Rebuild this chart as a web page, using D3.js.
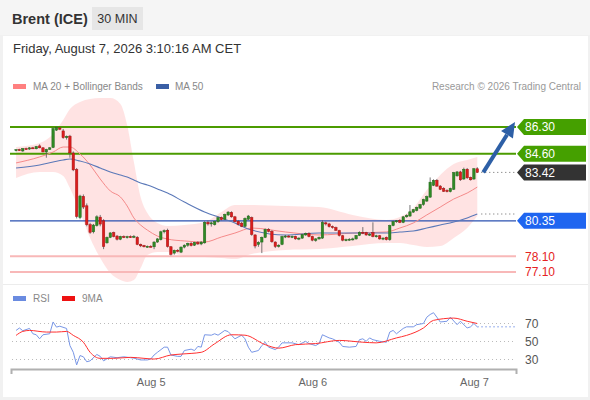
<!DOCTYPE html>
<html>
<head>
<meta charset="utf-8">
<script src="https://cdn.jsdelivr.net/npm/d3@7"></script>
<style>
  body { margin: 0; background: #f1f1f1; font-family: "Liberation Sans", Arial, sans-serif; }
</style>
</head>
<body>
<svg id="chart" width="590" height="400"></svg>
<script>
// first 30 min candle, Aug 4 04:00
var startTime = new Date(2026, 7, 4, 4, 0);

// open, high, low, close
var candles = [
  [84.82,84.90,84.75,84.86],[84.86,84.92,84.80,84.84],[84.78,84.96,84.72,84.93],[84.93,84.99,84.86,84.90],
  [84.90,85.02,84.85,84.98],[84.98,85.04,84.90,84.94],[84.92,85.10,84.88,85.06],[85.10,85.20,84.95,84.98],
  [84.98,85.02,84.70,84.72],[84.72,84.92,84.35,84.88],[84.88,85.02,84.84,84.98],[85.00,86.28,84.96,86.20],
  [86.10,86.34,86.05,86.26],[86.24,86.30,86.10,86.16],[86.05,86.18,85.55,85.62],[85.62,85.76,85.50,85.70],
  [85.72,85.80,84.35,84.66],[84.65,84.75,83.50,83.58],[83.60,83.70,80.50,80.62],[80.55,82.00,80.45,81.92],
  [81.90,82.02,81.10,81.22],[81.30,81.45,80.00,80.10],[80.10,80.22,79.52,79.62],[79.65,80.15,79.55,80.08],
  [80.05,80.70,79.98,80.60],[80.58,80.72,80.00,80.14],[80.35,80.45,78.55,78.72],[78.95,79.35,78.90,79.30],
  [79.30,79.62,79.25,79.58],[79.60,79.66,79.30,79.35],[79.38,79.45,79.10,79.18],[79.18,79.40,79.12,79.35],
  [79.35,79.42,79.25,79.30],[79.30,79.40,79.22,79.34],[79.34,79.42,79.26,79.30],[79.30,79.45,79.25,79.36],
  [79.30,79.38,78.80,78.85],[78.85,78.90,78.68,78.76],[78.78,78.82,78.66,78.70],[78.70,78.78,78.64,78.73],
  [78.73,78.80,78.66,78.70],[78.70,79.05,78.55,79.00],[79.00,79.25,78.95,79.20],[79.15,79.72,79.10,79.65],
  [79.65,79.80,79.55,79.72],[79.75,79.85,78.65,78.72],[78.70,78.75,78.15,78.22],[78.30,78.52,78.20,78.48],
  [78.48,78.55,78.35,78.42],[78.36,78.72,78.30,78.68],[78.68,78.86,78.60,78.80],[78.80,78.96,78.70,78.92],
  [78.92,79.00,78.72,78.78],[78.80,79.02,78.75,78.98],[78.98,79.05,78.82,78.88],[78.88,79.05,78.80,79.00],
  [78.95,80.32,78.90,80.25],[80.25,80.36,80.05,80.15],[80.15,80.30,79.98,80.22],[80.10,80.35,80.05,80.30],
  [80.30,80.62,80.22,80.55],[80.55,80.62,80.38,80.42],[80.45,80.80,80.40,80.75],[80.72,80.96,80.65,80.90],
  [80.88,80.95,80.55,80.60],[80.60,80.66,80.25,80.30],[80.32,80.40,80.05,80.12],[80.20,80.28,79.95,80.00],
  [80.00,80.56,79.95,80.50],[80.45,80.72,80.40,80.65],[80.55,80.62,79.40,79.48],[79.45,79.50,78.60,78.75],
  [78.85,79.05,78.70,78.98],[79.00,79.35,78.30,79.30],[79.30,79.86,79.25,79.80],[79.80,79.88,79.62,79.68],
  [79.68,79.75,78.95,79.02],[79.00,79.05,78.62,78.72],[78.72,78.86,78.65,78.80],[78.85,79.40,78.80,79.35],
  [79.35,79.45,79.25,79.38],[79.38,79.45,79.28,79.32],[79.32,79.42,79.25,79.36],[79.36,79.40,79.15,79.20],
  [79.20,79.30,79.12,79.25],[79.25,79.52,79.20,79.48],[79.45,79.60,79.40,79.55],[79.55,79.62,79.30,79.35],
  [79.35,79.40,79.05,79.12],[79.10,79.25,79.02,79.20],[79.20,79.35,79.15,79.30],[79.25,80.38,79.20,80.25],
  [80.22,80.30,80.05,80.15],[80.15,80.22,79.92,79.98],[79.98,80.05,79.85,79.92],[79.92,79.98,79.70,79.75],
  [79.72,79.78,79.35,79.42],[79.40,79.45,79.05,79.12],[79.12,79.22,79.05,79.15],[79.15,79.25,79.08,79.18],
  [79.18,79.28,79.10,79.20],[79.20,79.45,79.15,79.42],[79.42,79.68,79.38,79.62],[79.62,79.95,79.50,79.58],
  [79.60,79.65,79.40,79.45],[79.45,79.56,79.38,79.50],[79.60,80.25,79.30,79.35],[79.35,79.46,79.28,79.40],
  [79.40,79.45,79.15,79.20],[79.20,79.30,79.12,79.25],[79.30,79.35,79.10,79.15],[79.15,80.10,79.08,80.05],
  [80.05,80.35,80.00,80.30],[80.30,80.40,80.22,80.35],[80.38,80.45,80.20,80.25],[80.25,80.65,80.20,80.60],
  [80.60,80.76,80.55,80.68],[80.65,81.35,80.60,80.92],[80.90,81.10,80.85,81.05],[81.00,81.25,80.95,81.20],
  [81.15,81.42,81.10,81.38],[81.38,81.75,81.30,81.70],[81.60,81.95,81.55,81.88],[81.85,83.10,81.80,82.80],
  [82.60,82.98,82.55,82.92],[82.92,83.00,82.50,82.55],[82.55,82.62,82.30,82.35],[82.40,82.48,82.18,82.22],
  [82.28,82.35,82.15,82.20],[82.20,82.45,82.15,82.40],[82.35,83.45,82.30,83.40],[83.20,83.50,83.15,83.45],
  [83.45,83.52,82.88,82.95],[83.00,83.72,82.95,83.62],[83.62,83.70,83.00,83.08],[83.10,83.15,82.90,82.95],
  [83.00,83.70,82.95,83.65],[83.65,83.75,83.38,83.42]
];

// indicator samples (candle index -> value)
var bandIdx   = [0, 7, 11, 14, 16, 19, 22, 25, 28, 31, 33, 35, 37, 39, 42, 45, 50, 56, 61, 65, 70, 80, 90, 100, 110, 114, 118, 122, 126, 130, 134, 137];
var bandUpper = [85.03, 85.28, 85.86, 86.74, 87.44, 87.89, 88.08, 88.14, 88.14, 87.76, 86.43, 84.08, 81.86, 80.84, 80.21, 80.02,
                 80.08, 80.27, 80.91, 81.35, 81.35, 81.29, 81.22, 80.72, 80.40, 80.59, 81.16, 82.30, 83.25, 83.95, 84.21, 84.40];
var ma20      = [84.02, 84.40, 84.71, 85.03, 85.03, 84.59, 83.89, 83.00, 82.24, 81.86, 81.29, 80.53, 80.08, 79.76, 79.38, 79.19,
                 79.07, 79.00, 79.32, 79.57, 79.89, 79.64, 79.45, 79.57, 79.64, 79.89, 80.21, 80.72, 81.22, 81.73, 82.11, 82.49];
var bandLower = [83.06, 83.44, 83.44, 83.19, 82.43, 80.91, 79.26, 77.99, 77.04, 76.59, 76.47, 76.59, 77.35, 78.18, 78.37, 78.37,
                 78.11, 78.05, 77.99, 77.92, 78.24, 78.50, 78.56, 78.75, 78.94, 78.94, 78.81, 78.69, 78.75, 79.26, 79.89, 80.65];
var ma50      = [83.70, 83.89, 84.08, 84.21, 84.27, 84.14, 83.95, 83.70, 83.44, 83.25, 83.13, 82.94, 82.75, 82.62, 82.37, 82.11,
                 81.54, 80.91, 80.53, 80.21, 79.76, 79.45, 79.57, 79.57, 79.57, 79.64, 79.70, 79.89, 80.08, 80.27, 80.53, 80.78];

var rsiIdx = [0, 1, 2, 4, 5, 6, 7, 8, 10, 11, 12, 13, 15, 16, 17, 18, 19, 20, 21, 22, 24, 25, 26, 28, 30, 32, 35, 37, 39, 40,
              41, 42, 44, 45, 46, 48, 49, 50, 52, 53, 54, 55, 56, 58, 59, 60, 62, 63, 64, 65, 67, 68, 69, 70, 72, 73, 74, 75, 77, 78,
              79, 82, 84, 86, 87, 89, 90, 91, 93, 94, 96, 97, 99, 101, 102, 103, 104, 105, 106, 108, 110, 111, 112, 113, 115, 116, 118, 119, 121, 122,
              123, 124, 125, 126, 128, 129, 131, 132, 134, 135, 136, 137];
var rsiVal = [62.3, 65, 62, 64.5, 58.6, 57.5, 53, 57.5, 58.6, 71.7, 66, 67, 64.5, 45.5, 38, 24, 34.4, 33, 27.5, 28.5, 35.6, 33.5, 28.5, 33, 32, 33, 31.5, 29.5, 29.5, 30.5,
              35, 38, 43.7, 43.7, 35, 33.5, 33.5, 40, 41.5, 40, 44.5, 43.7, 57.5, 57, 58.6, 57, 62.3, 61, 57, 53, 57, 53, 43.7, 38, 40, 45.5, 49.2, 43.7, 41, 43.7,
              48.5, 48.5, 46.5, 50.2, 47.7, 45.5, 47.7, 57.5, 54, 53, 49.2, 44.5, 43.7, 44.5, 52, 53, 50.2, 54, 52, 50.2, 49.2, 60.5, 62.3, 58.6, 64.5, 66.3, 66.3, 68.7, 70, 77,
              80, 82, 77, 71.7, 72.5, 77, 68.7, 72.5, 65, 66.3, 70, 66.3];
var rsiMaIdx = [0, 2, 4, 9, 12, 15, 17, 20, 22, 25, 29, 34, 38, 41, 46, 49, 55, 59, 64, 68, 74, 78, 83, 89, 96, 103, 107, 113, 116, 121, 124, 130, 134, 137];
var rsiMaVal = [56.8, 61.2, 62.3, 60.5, 60.5, 61.2, 56.8, 49.2, 38, 31.3, 31.3, 32.4, 31.3, 30.5, 35, 36, 38, 47.5, 57.5, 57, 46.5, 42.6, 46.5, 47.7, 51.2, 49.2, 48.5, 54, 56.8, 65, 73.5, 76, 72.5, 70];

var resistances = [86.30, 84.60];
var supports = [78.10, 77.10];
var pivot = 80.35;
var lastPrice = 83.42;
var rsiLevels = [70, 50, 30];
var dayTicks = [new Date(2026, 7, 5), new Date(2026, 7, 6), new Date(2026, 7, 7)];

var left = 11, right = 516;

var svg = d3.select("#chart");

var x = d3.scaleTime()
    .domain([new Date(2026, 7, 4, 3, 15), new Date(2026, 7, 7, 6, 15)])
    .range([left, right]);
var y = d3.scaleLinear().domain([77.10, 86.30]).range([272, 127]);
var yR = d3.scaleLinear().domain([30, 70]).range([359.5, 323.5]);

var tOf = function(i) { return d3.timeMinute.offset(startTime, 30 * i); };

// page, header, card
svg.append("rect").attr("width", 590).attr("height", 400).attr("fill", "#f1f1f1");
svg.append("rect").attr("width", 590).attr("height", 35).attr("fill", "#f5f5f5");
svg.append("rect").attr("x", 3).attr("y", 36).attr("width", 585).attr("height", 361).attr("fill", "#fff");
svg.append("line").attr("x1", 3).attr("x2", 588).attr("y1", 284.5).attr("y2", 284.5)
    .attr("stroke", "#ececec");

svg.append("text").attr("x", 12).attr("y", 24)
    .attr("font-size", 14.5).attr("font-weight", "bold").attr("fill", "#333")
    .text("Brent (ICE)");
svg.append("rect").attr("x", 92).attr("y", 7).attr("width", 51).attr("height", 23).attr("fill", "#e6e6e6");
svg.append("text").attr("x", 117.5).attr("y", 23).attr("text-anchor", "middle")
    .attr("font-size", 12.5).attr("fill", "#333").text("30 MIN");
svg.append("text").attr("x", 13).attr("y", 53)
    .attr("font-size", 13).attr("fill", "#333")
    .text("Friday, August 7, 2026 3:10:16 AM CET");

// legends
svg.append("rect").attr("x", 13).attr("y", 84).attr("width", 13).attr("height", 5).attr("fill", "#ff8080");
svg.append("text").attr("x", 33).attr("y", 90).attr("font-size", 10).attr("fill", "#888")
    .text("MA 20 + Bollinger Bands");
svg.append("rect").attr("x", 156).attr("y", 84).attr("width", 13).attr("height", 5).attr("fill", "#3a5fa5");
svg.append("text").attr("x", 175).attr("y", 90).attr("font-size", 10).attr("fill", "#888").text("MA 50");
svg.append("text").attr("x", 581).attr("y", 90).attr("text-anchor", "end")
    .attr("font-size", 10).attr("fill", "#999").text("Research \u00a9 2026 Trading Central");

// bollinger band
var bandData = bandIdx.map(function(d, k) {
  return { t: tOf(d), up: bandUpper[k], mid: ma20[k], lo: bandLower[k], m50: ma50[k] };
});
svg.append("path").datum(bandData)
    .attr("fill", "#ffdede").attr("fill-opacity", 0.85)
    .attr("d", d3.area().curve(d3.curveMonotoneX)
      .x(function(d) { return x(d.t); })
      .y0(function(d) { return y(d.lo); })
      .y1(function(d) { return y(d.up); }));

// levels
resistances.forEach(function(v) {
  svg.append("line").attr("x1", left - 1).attr("x2", right).attr("y1", y(v)).attr("y2", y(v))
      .attr("stroke", "#4b9b00").attr("stroke-width", 2);
});
supports.forEach(function(v) {
  svg.append("line").attr("x1", left - 1).attr("x2", right).attr("y1", y(v)).attr("y2", y(v))
      .attr("stroke", "#f8b8b8").attr("stroke-width", 2);
});
svg.append("line").attr("x1", left - 1).attr("x2", right).attr("y1", y(pivot)).attr("y2", y(pivot))
    .attr("stroke", "#2a50b0").attr("stroke-width", 1.2);

// moving averages
svg.append("path").datum(bandData)
    .attr("fill", "none").attr("stroke", "#f58a8a").attr("stroke-width", 1)
    .attr("d", d3.line().curve(d3.curveMonotoneX)
      .x(function(d) { return x(d.t); }).y(function(d) { return y(d.mid); }));
svg.append("path").datum(bandData)
    .attr("fill", "none").attr("stroke", "#5a78b8").attr("stroke-width", 1.1)
    .attr("d", d3.line().curve(d3.curveMonotoneX)
      .x(function(d) { return x(d.t); }).y(function(d) { return y(d.m50); }));

// candles
var bw = 2.4;
var cg = svg.append("g").selectAll("g")
    .data(candles)
  .enter().append("g");
cg.append("line")
    .attr("x1", function(d, i) { return x(tOf(i)); })
    .attr("x2", function(d, i) { return x(tOf(i)); })
    .attr("y1", function(d) { return y(d[1]); })
    .attr("y2", function(d) { return y(d[2]); })
    .attr("stroke", "#555").attr("stroke-width", 0.8);
cg.append("rect")
    .attr("x", function(d, i) { return x(tOf(i)) - bw / 2; })
    .attr("y", function(d) { return y(Math.max(d[0], d[3])); })
    .attr("width", bw)
    .attr("height", function(d) { return Math.max(1, Math.abs(y(d[0]) - y(d[3]))); })
    .attr("fill", function(d) { return d[3] >= d[0] ? "#2f8a25" : "#dd1c1c"; })
    .attr("stroke", function(d) { return d[3] >= d[0] ? "#22661a" : "#a01212"; })
    .attr("stroke-width", 0.5);

// dotted extensions
var xLast = x(tOf(candles.length - 1));
[lastPrice, ma50[ma50.length - 1]].forEach(function(v) {
  svg.append("line").attr("x1", xLast + 4).attr("x2", right).attr("y1", y(v)).attr("y2", y(v))
      .attr("stroke", "#666").attr("stroke-width", 1).attr("stroke-dasharray", "1,3");
});

// arrow to target
var a0 = [xLast + 6, y(lastPrice)], a1 = [right - 1, y(resistances[0]) - 5];
var dx = a1[0] - a0[0], dy = a1[1] - a0[1], len = Math.sqrt(dx * dx + dy * dy);
var ux = dx / len, uy = dy / len, hl = 15, hw = 7;
var bx = a1[0] - ux * hl, by = a1[1] - uy * hl;
svg.append("line").attr("x1", a0[0]).attr("y1", a0[1]).attr("x2", bx).attr("y2", by)
    .attr("stroke", "#2d5fa6").attr("stroke-width", 4);
svg.append("path")
    .attr("d", "M" + a1[0] + "," + a1[1] +
               "L" + (bx - uy * hw) + "," + (by + ux * hw) +
               "L" + (bx + uy * hw) + "," + (by - ux * hw) + "Z")
    .attr("fill", "#2d5fa6");

// right tags
function tag(v, color) {
  var yc = y(v);
  svg.append("path")
      .attr("d", "M" + (right + 1) + "," + yc + "L" + (right + 8) + "," + (yc - 8) +
                 "H586V" + (yc + 8) + "H" + (right + 8) + "Z")
      .attr("fill", color);
  svg.append("text").attr("x", 525).attr("y", yc).attr("dy", "0.36em")
      .attr("font-size", 12).attr("fill", "#fff").text(v.toFixed(2));
}
resistances.forEach(function(v) { tag(v, "#45a000"); });
tag(lastPrice, "#333");
tag(pivot, "#1f65f0");
supports.forEach(function(v) {
  svg.append("text").attr("x", 525).attr("y", y(v)).attr("dy", "0.36em")
      .attr("font-size", 12).attr("fill", "#e52222").text(v.toFixed(2));
});

// RSI panel
svg.append("rect").attr("x", 13).attr("y", 296).attr("width", 13).attr("height", 5).attr("fill", "#6a8be0");
svg.append("text").attr("x", 33).attr("y", 302).attr("font-size", 10).attr("fill", "#888").text("RSI");
svg.append("rect").attr("x", 62).attr("y", 296).attr("width", 13).attr("height", 5).attr("fill", "#ee1111");
svg.append("text").attr("x", 82).attr("y", 302).attr("font-size", 10).attr("fill", "#888").text("9MA");

rsiLevels.forEach(function(v) {
  svg.append("line").attr("x1", left + 1).attr("x2", right).attr("y1", yR(v)).attr("y2", yR(v))
      .attr("stroke", "#bbb").attr("stroke-dasharray", "1,3");
  svg.append("text").attr("x", 525).attr("y", yR(v)).attr("dy", "0.36em")
      .attr("font-size", 12).attr("fill", "#555").text(v);
});

svg.append("path").datum(rsiIdx)
    .attr("fill", "none").attr("stroke", "#7896e6").attr("stroke-width", 1)
    .attr("d", d3.line()
      .x(function(d) { return x(tOf(d)); })
      .y(function(d, k) { return yR(rsiVal[k]); }));
svg.append("path").datum(rsiMaIdx)
    .attr("fill", "none").attr("stroke", "#ff3030").attr("stroke-width", 1)
    .attr("d", d3.line().curve(d3.curveMonotoneX)
      .x(function(d) { return x(tOf(d)); })
      .y(function(d, k) { return yR(rsiMaVal[k]); }));
svg.append("line").attr("x1", xLast).attr("x2", right)
    .attr("y1", yR(rsiVal[rsiVal.length - 1])).attr("y2", yR(rsiVal[rsiVal.length - 1]))
    .attr("stroke", "#7896e6").attr("stroke-dasharray", "1.5,2.5");

var xAxis = svg.append("g")
    .attr("transform", "translate(0,369)")
    .call(d3.axisBottom(x)
      .tickValues(dayTicks)
      .tickFormat(d3.timeFormat("%b %-d"))
      .tickSizeInner(0)
      .tickSizeOuter(5)
      .tickPadding(9));
xAxis.select(".domain").attr("stroke", "#b0b0b0").attr("stroke-width", 2);
xAxis.selectAll("text").attr("fill", "#666").attr("font-size", 11)
    .attr("font-family", "Liberation Sans, Arial, sans-serif");
</script>
</body>
</html>
